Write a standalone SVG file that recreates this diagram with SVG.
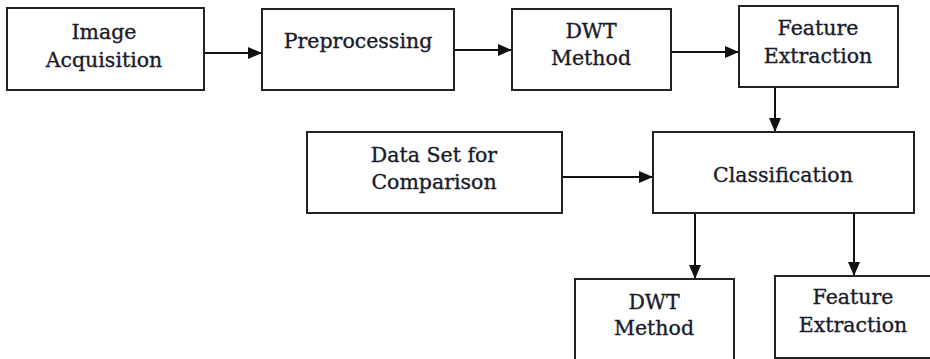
<svg xmlns="http://www.w3.org/2000/svg" width="930" height="359" viewBox="0 0 930 359">
  <defs>
    <marker id="arrow" markerUnits="userSpaceOnUse" markerWidth="14" markerHeight="14" viewBox="0 0 14 14" refX="14" refY="7" orient="auto">
      <path d="M0,1 L14,7 L0,13 Z" fill="#111"/>
    </marker>
  </defs>
  <style>
    .box { fill: #fff; stroke: #222; stroke-width: 2; }
    .lbl { font-family: 'DejaVu Serif', 'Liberation Serif', serif; font-size: 20.5px; fill: #1a1a2a; stroke: #1a1a2a; stroke-width: 0.35; text-anchor: middle; }
    .conn { stroke: #111; stroke-width: 2; fill: none; marker-end: url(#arrow); }
  </style>
  <rect width="930" height="359" fill="#fff"/>

  <g id="connectors">
    <line class="conn" x1="204" y1="53" x2="262" y2="53"/>
    <line class="conn" x1="454" y1="50" x2="512" y2="50"/>
    <line class="conn" x1="671" y1="52" x2="739" y2="52"/>
    <line class="conn" x1="775" y1="87" x2="775" y2="132"/>
    <line class="conn" x1="562" y1="177" x2="653" y2="177"/>
    <line class="conn" x1="695" y1="213" x2="695" y2="279"/>
    <line class="conn" x1="854" y1="213" x2="854" y2="276"/>
  </g>

  <g id="image-acquisition">
    <rect class="box" x="7" y="8" width="197" height="82"/>
    <text class="lbl" x="104" y="39">Image</text>
    <text class="lbl" x="104" y="67">Acquisition</text>
  </g>

  <g id="preprocessing">
    <rect class="box" x="262" y="9" width="192" height="81"/>
    <text class="lbl" x="358" y="48">Preprocessing</text>
  </g>

  <g id="dwt-method">
    <rect class="box" x="512" y="9" width="159" height="81"/>
    <text class="lbl" x="591" y="38">DWT</text>
    <text class="lbl" x="591" y="65">Method</text>
  </g>

  <g id="feature-extraction">
    <rect class="box" x="739" y="6" width="159" height="81"/>
    <text class="lbl" x="818" y="35">Feature</text>
    <text class="lbl" x="818" y="63">Extraction</text>
  </g>

  <g id="data-set">
    <rect class="box" x="307" y="132" width="255" height="81"/>
    <text class="lbl" x="434" y="162">Data Set for</text>
    <text class="lbl" x="434" y="189">Comparison</text>
  </g>

  <g id="classification">
    <rect class="box" x="653" y="132" width="261" height="81"/>
    <text class="lbl" x="783" y="182">Classification</text>
  </g>

  <g id="dwt-method-2">
    <rect class="box" x="575" y="279" width="159" height="90"/>
    <text class="lbl" x="654" y="309">DWT</text>
    <text class="lbl" x="654" y="335">Method</text>
  </g>

  <g id="feature-extraction-2">
    <rect class="box" x="775" y="276" width="170" height="82"/>
    <text class="lbl" x="853" y="304">Feature</text>
    <text class="lbl" x="853" y="332">Extraction</text>
  </g>
</svg>
